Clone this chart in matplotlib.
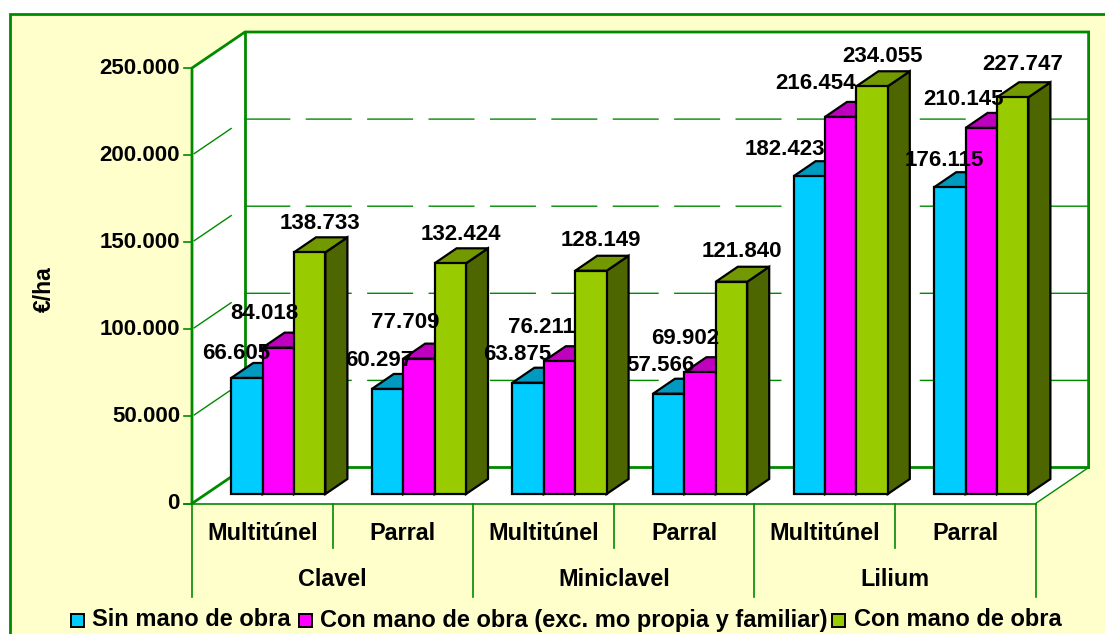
import matplotlib
matplotlib.use("Agg")
import matplotlib.pyplot as plt
from matplotlib.patches import Polygon, Rectangle

plt.rcParams['font.family'] = ['Liberation Sans', 'DejaVu Sans']
plt.rcParams['font.weight'] = 'bold'

# -------- DATA --------
cultivos = ["Clavel", "Miniclavel", "Lilium"]
estructuras = ["Multitúnel", "Parral", "Multitúnel", "Parral", "Multitúnel", "Parral"]
series_names = ["Sin mano de obra",
                "Con mano de obra (exc. mo propia y familiar)",
                "Con mano de obra"]
sin_mo = [66605, 60297, 63875, 57566, 182423, 176115]
con_mo_exc = [84018, 77709, 76211, 69902, 216454, 210145]
con_mo = [138733, 132424, 128149, 121840, 234055, 227747]
yticks = [0, 50000, 100000, 150000, 200000, 250000]

# -------- STYLE --------
front_col = ["#00CCFF", "#FF00FF", "#99CC00"]
top_col = ["#0099BF", "#BF00BF", "#739900"]
side_col = ["#006680", "#800080", "#4D6600"]
GREEN = "#008A00"
BEIGE = "#FFFFCC"

# label offsets from the bar's top centre, in pixels
label_dx = [[-11, -8, -11, -8, -24, -6],
            [-14, -14, -18, -15, -25, -18],
            [10, 11, 10, 10, 10, 10]]
label_dy = [[24, 28, 28, 28, 27, 27],
            [34, 36, 34, 34, 33, 28],
            [29, 29, 30, 30, 30, 33]]

# pixels -> data units (x in categories, y in euros)
PX = 1 / 140.6
PY = 250000 / 435.5
W, H = 1105, 634
X0, Y0 = 192, 503.5


def xp(px):
    return (px - X0) * PX


def yp(py):
    return (Y0 - py) * PY


fig = plt.figure(figsize=(W / 100, H / 100), dpi=100)
ax = fig.add_axes([0, 0, 1, 1])
ax.set_xlim(xp(0), xp(W))
ax.set_ylim(yp(H), yp(0))
ax.axis("off")

# chart area background and border
ax.add_patch(Rectangle((xp(10), yp(H + 5)), xp(W + 5) - xp(10), yp(14) - yp(H + 5),
                       fc=BEIGE, ec=GREEN, lw=2.0, zorder=0))

# walls
n = len(estructuras)
DX, DY = 53 * PX, 36 * PY
ymax = yticks[-1]
wall_fc = "white"
ax.add_patch(Polygon([(DX, DY), (n + DX, DY), (n + DX, ymax + DY), (DX, ymax + DY)],
                     fc=wall_fc, ec="none", zorder=1))
ax.add_patch(Polygon([(0, 0), (DX, DY), (DX, ymax + DY), (0, ymax)],
                     fc=wall_fc, ec="none", zorder=1))
ax.add_patch(Polygon([(0, 0), (n, 0), (n + DX, DY), (DX, DY)],
                     fc=wall_fc, ec="none", zorder=1))

# gridlines run along the side wall and then the back wall
dash = (59.4 * 0.72, (46 * 0.72, 15.4 * 0.72))
for v in yticks[1:-1]:
    ax.plot([0, DX, n + DX], [v, v + DY, v + DY], color=GREEN, lw=1.0,
            linestyle=dash, zorder=2)

# frame
ax.plot([0, 0, DX, n + DX, n + DX], [0, ymax, ymax + DY, ymax + DY, DY],
        color=GREEN, lw=2.0, zorder=2, solid_joinstyle="miter")
ax.plot([DX, DX], [DY, ymax + DY], color=GREEN, lw=2.0, zorder=2)
ax.plot([0, DX, n + DX], [0, DY, DY], color=GREEN, lw=2.0, zorder=2)
ax.plot([n, n + DX], [0, DY], color=GREEN, lw=1.0, zorder=2)
ax.plot([xp(184), n], [0, 0], color=GREEN, lw=1.2, zorder=2)

# y ticks and labels
for v in yticks:
    ax.plot([xp(184), 0], [v, v], color=GREEN, lw=1.2, zorder=2)
    lab = f"{v:,}".replace(",", ".")
    ax.text(xp(180), v, lab, ha="right", va="center", fontsize=16, zorder=6)
ax.text(xp(44), yp(289), "€/ha", rotation=90, ha="center", va="center", fontsize=16.5)

# category axis
for i in range(n + 1):
    long_tick = i % 2 == 0
    ax.plot([i, i], [0, yp(597 if long_tick else 548)], color=GREEN, lw=1.2, zorder=2)
for i, name in enumerate(estructuras):
    ax.text(i + 0.5, yp(533), name, ha="center", va="center", fontsize=16.8)
for i, name in enumerate(cultivos):
    ax.text(2 * i + 1, yp(579), name, ha="center", va="center", fontsize=16.8)

# bars
all_series = [sin_mo, con_mo_exc, con_mo]
bar_w = 31.4 * PX
bar_x0 = 39.2 * PX
base = 9.5 * PY
bdx, bdy = 22 * PX, 15 * PY
edge = 1.6
for i in range(n):
    for s, vals in enumerate(all_series):
        left = i + bar_x0 + s * bar_w
        top = vals[i] + base
        right = left + bar_w
        ax.add_patch(Polygon([(right, base), (right + bdx, base + bdy),
                              (right + bdx, top + bdy), (right, top)],
                             fc=side_col[s], ec="black", lw=edge, zorder=3,
                             joinstyle="miter"))
        ax.add_patch(Polygon([(left, top), (right, top),
                              (right + bdx, top + bdy), (left + bdx, top + bdy)],
                             fc=top_col[s], ec="black", lw=edge, zorder=3,
                             joinstyle="miter"))
        ax.bar(left, vals[i], width=bar_w, bottom=base, align="edge",
               color=front_col[s], edgecolor="black", linewidth=edge, zorder=3)

# data labels
for s, vals in enumerate(all_series):
    for i, v in enumerate(vals):
        cx = i + bar_x0 + (s + 0.5) * bar_w
        ax.text(cx + label_dx[s][i] * PX, v + base + label_dy[s][i] * PY,
                f"{v:,}".replace(",", "."), ha="center", va="center",
                fontsize=16, zorder=6)

# legend
legend_x = [71, 299, 832]
text_x = [92, 320, 854]
for s, name in enumerate(series_names):
    ax.add_patch(Rectangle((xp(legend_x[s]), yp(627)), 13 * PX, 13 * PY,
                           fc=front_col[s], ec="black", lw=1.4, zorder=3))
    ax.text(xp(text_x[s]), yp(620), name, ha="left", va="center", fontsize=17)

fig.savefig("out.png", dpi=100)
